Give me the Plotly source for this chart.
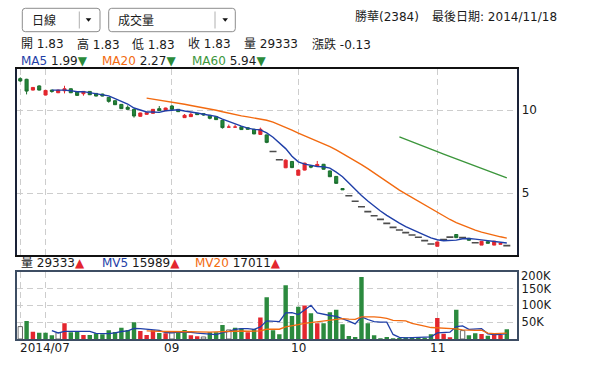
import plotly.graph_objects as go
import pandas as pd

W, H = 600, 367
FONT = "DejaVu Sans, Noto Sans CJK TC, sans-serif"

# ---------------- data ----------------
month_tick_idx = [0, 4, 24, 44, 66]
month_tick_text = ["2014/07", "", "09", "10", "11"]

open_ = [11.89, 11.85, 11.20, 11.45, 10.90, 11.20, 11.04, 11.16, 11.28, 11.08,
         10.98, 11.12, 11.00, 10.96, 10.76, 10.56, 10.34, 10.16, 10.04, 9.62,
         9.74, 9.80, 10.08, 9.96, 10.24, 10.04, 9.54, 9.60, 9.80, 9.78,
         9.68, 9.60, 9.38, 8.97, 8.97, 8.99, 8.93, 8.84, 8.53, 8.50,
         7.50, 7.00, 6.52, 6.90, 6.07, 6.38, 6.63, 6.63, 6.73, 6.33,
         6.00, 5.27, 4.83, 4.50, 4.17, 3.88, 3.63, 3.41, 3.17, 2.93,
         2.77, 2.61, 2.47, 2.33, 2.13, 1.93, 1.79, 2.19, 2.34, 2.50,
         2.31, 2.27, 2.00, 1.86, 2.07, 1.86, 1.91, 1.83]
high = [11.97, 11.88, 11.38, 11.48, 11.20, 11.22, 11.22, 11.46, 11.30, 11.10,
        11.14, 11.14, 11.02, 10.98, 10.78, 10.58, 10.36, 10.28, 10.06, 9.84,
        9.86, 10.06, 10.24, 10.14, 10.30, 10.06, 9.76, 9.86, 9.82, 9.80,
        9.70, 9.62, 9.40, 9.12, 9.12, 9.01, 8.95, 8.86, 8.94, 8.52,
        7.50, 7.00, 7.02, 6.92, 6.40, 6.82, 6.69, 6.93, 6.75, 6.35,
        6.02, 5.29, 4.83, 4.50, 4.17, 3.88, 3.63, 3.41, 3.17, 2.93,
        2.77, 2.61, 2.47, 2.33, 2.13, 1.93, 2.06, 2.19, 2.34, 2.51,
        2.31, 2.28, 2.00, 2.10, 2.08, 2.11, 1.97, 1.83]
low = [11.70, 10.94, 11.18, 11.18, 10.88, 11.04, 11.02, 11.00, 11.02, 10.86,
       10.86, 10.90, 10.82, 10.82, 10.44, 10.30, 10.06, 10.02, 9.54, 9.60,
       9.72, 9.78, 9.94, 9.94, 10.02, 9.88, 9.52, 9.58, 9.70, 9.66,
       9.44, 9.40, 8.88, 8.97, 8.97, 8.80, 8.82, 8.54, 8.50, 8.00,
       7.50, 7.00, 6.50, 6.50, 6.06, 6.36, 6.49, 6.62, 6.41, 5.96,
       5.56, 5.19, 4.83, 4.50, 4.17, 3.88, 3.63, 3.41, 3.17, 2.93,
       2.77, 2.61, 2.47, 2.33, 2.13, 1.93, 1.79, 2.19, 2.34, 2.29,
       2.31, 2.15, 2.00, 1.86, 1.97, 1.86, 1.90, 1.83]
close = [11.75, 11.14, 11.36, 11.20, 11.18, 11.12, 11.20, 11.28, 11.04, 10.88,
         11.12, 10.92, 10.84, 10.84, 10.52, 10.32, 10.08, 10.04, 9.64, 9.82,
         9.84, 10.04, 9.96, 10.12, 10.04, 9.90, 9.68, 9.74, 9.72, 9.70,
         9.50, 9.42, 8.94, 8.97, 8.97, 8.82, 8.84, 8.56, 8.84, 8.05,
         7.50, 7.00, 6.98, 6.53, 6.38, 6.80, 6.56, 6.72, 6.43, 5.98,
         5.58, 5.19, 4.83, 4.50, 4.17, 3.88, 3.63, 3.41, 3.17, 2.93,
         2.77, 2.61, 2.47, 2.33, 2.13, 1.93, 2.05, 2.19, 2.34, 2.31,
         2.31, 2.15, 2.00, 2.09, 1.97, 2.10, 1.96, 1.83]
volume = [36800, 53700, 21900, 18900, 18900, 10900, 18900, 46800, 19900, 21900,
          11900, 11900, 16900, 13900, 25900, 20900, 33800, 26900, 49800, 23900,
          11900, 25900, 17900, 16900, 18900, 23900, 26900, 10900, 8000, 6000,
          19900, 19900, 41800, 26900, 33800, 31800, 19900, 29900, 63700, 124000,
          25900, 13900, 160000, 68700, 95500, 99500, 76600, 46800, 46800, 79600,
          86600, 43800, 9000, 6000, 184000, 46800, 10900, 2000, 6000, 2000,
          3000, 5000, 5000, 5000, 4000, 13900, 62700, 15900, 5000, 86600,
          24900, 10900, 16900, 14900, 10000, 13900, 11900, 29333]
volume_dir = ["W", "G", "R", "G", "G", "G", "W", "R", "G", "G",
              "R", "G", "G", "G", "G", "G", "G", "G", "G", "R",
              "R", "R", "G", "R", "W", "G", "G", "R", "R", "W",
              "G", "G", "G", "W", "G", "G", "R", "G", "R", "G",
              "G", "G", "G", "G", "G", "R", "G", "R", "G", "G",
              "G", "G", "G", "G", "G", "G", "G", "G", "G", "G",
              "G", "G", "G", "G", "G", "G", "R", "R", "R", "G",
              "W", "G", "G", "R", "G", "R", "R", "G"]

price_ticks = [5, 10]
vol_ticks = [50000, 100000, 150000]
vol_tick_text = ["50K", "100K", "150K"]

# ---------------- styling ----------------
RED = "#e3262e"
GREEN = "#23863a"
GREEN_LINE = "#1b6e2e"
BLUE = "#1f3fa8"
ORANGE = "#f26a10"
MA60C = "#3c963c"
GRID = "#cdcdcd"
TXT = "#1a1a1a"

n = len(close)
x = list(range(n))


def px(v):
    return v / W


def py(v):
    return 1 - v / H


def masked_ma(series, k):
    s = pd.Series(series, dtype=float).rolling(k).mean()
    s[s.index < k] = None
    return s.tolist()


doji = [open_[i] == high[i] == low[i] == close[i] for i in x]
cx = [i for i in x if not doji[i]]
dx = [i for i in x if doji[i]]

fig = go.Figure()

fig.add_trace(go.Candlestick(
    x=cx, open=[open_[i] for i in cx], high=[high[i] for i in cx],
    low=[low[i] for i in cx], close=[close[i] for i in cx],
    increasing=dict(line=dict(color=RED, width=1), fillcolor=RED),
    decreasing=dict(line=dict(color=GREEN_LINE, width=1), fillcolor=GREEN),
    whiskerwidth=0, xaxis="x", yaxis="y", showlegend=False, hoverinfo="skip"))

fig.add_trace(go.Scatter(
    x=dx, y=[close[i] for i in dx], mode="markers",
    marker=dict(symbol="line-ew", size=5, line=dict(width=1.6, color="#4d4d4d")),
    xaxis="x", yaxis="y", showlegend=False, hoverinfo="skip"))

for k, col in [(5, BLUE), (20, ORANGE), (60, MA60C)]:
    fig.add_trace(go.Scatter(
        x=x, y=masked_ma(close, k), mode="lines", line=dict(color=col, width=1.4),
        xaxis="x", yaxis="y", showlegend=False, hoverinfo="skip", connectgaps=False))

cmap = {"R": RED, "G": "#2b8a3e", "W": "#ffffff"}
fig.add_trace(go.Bar(
    x=x, y=volume, width=0.7,
    marker=dict(color=[cmap[d] for d in volume_dir],
                line=dict(color=["#666666" if d == "W" else cmap[d] for d in volume_dir],
                          width=[1 if d == "W" else 0 for d in volume_dir])),
    xaxis="x2", yaxis="y2", showlegend=False, hoverinfo="skip"))

for k, col in [(5, BLUE), (20, ORANGE)]:
    fig.add_trace(go.Scatter(
        x=x, y=masked_ma(volume, k), mode="lines", line=dict(color=col, width=1.3),
        xaxis="x2", yaxis="y2", showlegend=False, hoverinfo="skip"))

X0, X1 = 17.3, 517.3
MAIN_TOP, MAIN_BOT = 69.3, 255.0
VOL_TOP, VOL_BOT = 271.7, 339.0
XR = [-0.47, 78.66]

grid = dict(showgrid=True, gridcolor=GRID, griddash="6px,4px", gridwidth=1, zeroline=False)

fig.update_layout(
    width=W, height=H, autosize=False,
    margin=dict(l=0, r=0, t=0, b=0, pad=0),
    paper_bgcolor="white", plot_bgcolor="white",
    hovermode=False, showlegend=False,
    font=dict(family=FONT, size=12, color=TXT),
    xaxis=dict(domain=[px(X0), px(X1)], range=XR, anchor="y", tickmode="array",
               tickvals=month_tick_idx, showticklabels=False, ticks="",
               showline=True, mirror=True, linecolor="#111111", linewidth=2,
               rangeslider=dict(visible=False), **grid),
    yaxis=dict(domain=[py(MAIN_BOT), py(MAIN_TOP)], range=[1.265, 12.452], anchor="x",
               side="right", tickmode="array", tickvals=price_ticks, ticks="",
               tickfont=dict(size=12, color=TXT),
               showline=True, mirror=True, linecolor="#1a2238", linewidth=2, **grid),
    xaxis2=dict(domain=[px(X0), px(X1)], range=XR, anchor="y2", matches="x",
                tickmode="array", tickvals=month_tick_idx, showticklabels=False, ticks="",
                showline=True, mirror=True, linecolor="#3d4d63", linewidth=2, **grid),
    yaxis2=dict(domain=[py(VOL_BOT), py(VOL_TOP)], range=[0, 200000], anchor="x2",
                side="right", tickmode="array", tickvals=vol_ticks, ticktext=vol_tick_text,
                ticks="", tickfont=dict(size=11.5, color=TXT),
                showline=True, mirror=True, linecolor="#3d4d63", linewidth=2, **grid),
)

ann = []


def add_text(text, xp, yp, anchor="left", size=12, color=TXT):
    ann.append(dict(text=text, x=px(xp), y=py(yp), xref="paper", yref="paper",
                    xanchor=anchor, yanchor="middle", showarrow=False,
                    font=dict(size=size, color=color, family=FONT)))


def span(t, c):
    return "<span style='color:%s'>%s</span>" % (c, t)


# title row
add_text("勝華(2384)", 352.5, 16.7)
add_text("最後日期: 2014/11/18", 430, 16.7)
add_text("日線", 29.5, 20)
add_text("成交量", 116, 20)

# info row
add_text("開 1.83", 18.5, 44.3)
add_text("高 1.83", 74.5, 44.3)
add_text("低 1.83", 130, 44.3)
add_text("收 1.83", 186, 44.3)
add_text("量 29333", 242, 44.3)
add_text("漲跌 -0.13", 309.5, 44.3)

DOWN = span("▼", "#2a8a3a")
UP = span("▲", RED)
add_text(span("MA5", BLUE) + " 1.99" + DOWN, 18.5, 61)
add_text(span("MA20", ORANGE) + " 2.27" + DOWN, 99.5, 61)
add_text(span("MA60", MA60C) + " 5.94" + DOWN, 189.5, 61)

add_text("量 29333" + UP, 18.5, 263.3)
add_text(span("MV5", BLUE) + " 15989" + UP, 99.5, 263.3)
add_text(span("MV20", ORANGE) + " 17011" + UP, 192.5, 263.3)

add_text("200K", 518.5, 276.3, size=11.5)

# month labels under the volume panel
for idx, lab in zip(month_tick_idx, month_tick_text):
    if not lab:
        continue
    ann.append(dict(text=lab, x=idx, y=py(348.3), xref="x2", yref="paper",
                    xanchor="left" if idx == 0 else "center", yanchor="middle",
                    xshift=-2 if idx == 0 else 0, showarrow=False,
                    font=dict(size=12, color=TXT, family=FONT)))

fig.update_layout(annotations=ann)


def rounded_box(x0, y0, x1, y1, r=3):
    X = lambda v: px(v)
    Y = lambda v: py(v)
    return ("M {a} {b} L {c} {b} Q {d} {b} {d} {e} L {d} {f} Q {d} {g} {c} {g} "
            "L {a} {g} Q {h} {g} {h} {f} L {h} {e} Q {h} {b} {a} {b} Z").format(
        a=X(x0 + r), b=Y(y0), c=X(x1 - r), d=X(x1), e=Y(y0 + r), f=Y(y1 - r),
        g=Y(y1), h=X(x0))


shapes = []
for (bx0, bx1, sep, arr) in [(22.3, 100, 79.3, 88.5), (108.7, 235.3, 215, 225.2)]:
    shapes.append(dict(type="path", path=rounded_box(bx0, 8.3, bx1, 31.7), xref="paper",
                       yref="paper", line=dict(color="#8c8c8c", width=1), fillcolor="white"))
    shapes.append(dict(type="line", xref="paper", yref="paper", x0=px(sep), x1=px(sep),
                       y0=py(11.5), y1=py(28.5), line=dict(color="#b0b0b0", width=1)))
    shapes.append(dict(type="path", xref="paper", yref="paper",
                       path="M {} {} L {} {} L {} {} Z".format(px(arr - 2.8), py(18.3),
                                                                 px(arr + 2.8), py(18.3),
                                                                 px(arr), py(21.8)),
                       fillcolor="#111111", line=dict(width=0)))
fig.update_layout(shapes=shapes)

fig.write_html("out.html", config={"displayModeBar": False, "staticPlot": True},
               post_script="document.body.style.margin='0px';")
